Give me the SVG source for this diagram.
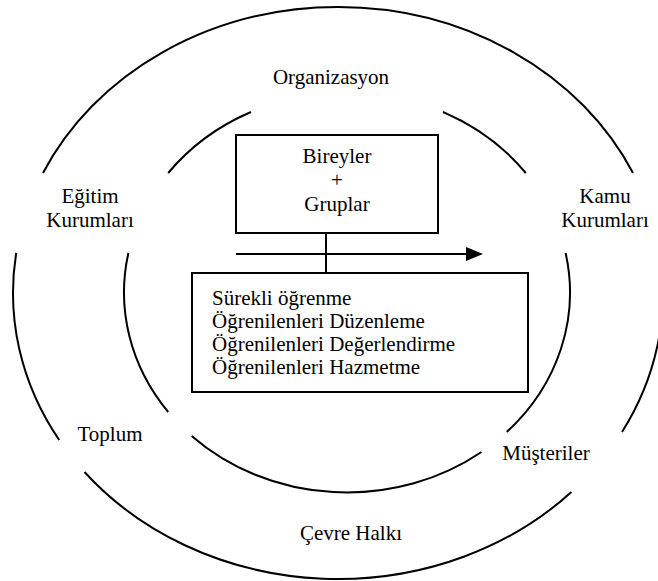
<svg xmlns="http://www.w3.org/2000/svg" width="658" height="581" viewBox="0 0 658 581">
  <defs>
    <style>
      .ring { fill: none; stroke: #000; stroke-width: 2; }
      .box { fill: #fff; stroke: #000; stroke-width: 2; }
      .conn { fill: none; stroke: #000; stroke-width: 2; }
      .t { font-family: "Liberation Serif", "Times New Roman", serif; font-size: 21px; fill: #000; }
      .c { text-anchor: middle; }
    </style>
  </defs>
  <rect x="0" y="0" width="658" height="581" fill="#fff"/>

  <g id="outer-ring">
    <path class="ring" d="M 633 173 A 325 286 0 0 0 43 173"/>
    <path class="ring" d="M 16.2 253 A 325 286 0 0 0 59.2 440"/>
    <path class="ring" d="M 84.5 472 A 325 286 0 0 0 571.4 492"/>
    <path class="ring" d="M 622 432 A 325 286 0 0 0 659.8 253"/>
  </g>

  <g id="inner-ring">
    <path class="ring" d="M 251 112 A 223 200 0 0 0 168.2 173"/>
    <path class="ring" d="M 128.4 253 A 223 200 0 0 0 168.2 412"/>
    <path class="ring" d="M 191.7 436 A 223 200 0 0 0 481.5 452"/>
    <path class="ring" d="M 506.8 432 A 223 200 0 0 0 565.6 253"/>
    <path class="ring" d="M 525.8 173 A 223 200 0 0 0 443 112"/>
  </g>

  <g id="label-organizasyon"><text class="t c" x="331" y="84">Organizasyon</text></g>
  <g id="label-egitim">
    <text class="t c" x="90" y="203">Eğitim</text>
    <text class="t c" x="90" y="227">Kurumları</text>
  </g>
  <g id="label-kamu">
    <text class="t c" x="605" y="203">Kamu</text>
    <text class="t c" x="605" y="227">Kurumları</text>
  </g>
  <g id="label-toplum"><text class="t c" x="110" y="441">Toplum</text></g>
  <g id="label-musteriler"><text class="t c" x="546" y="460">Müşteriler</text></g>
  <g id="label-cevre"><text class="t c" x="351" y="540">Çevre Halkı</text></g>

  <g id="connectors">
    <line class="conn" x1="326" y1="233" x2="326" y2="273"/>
    <line class="conn" x1="236" y1="254" x2="470" y2="254" stroke-width="2.5"/>
    <polygon points="483,254 466,247 466,261" fill="#000"/>
  </g>

  <g id="node-bireyler">
    <rect class="box" x="236" y="135" width="202" height="98"/>
    <text class="t c" x="337" y="163">Bireyler</text>
    <text class="t c" x="337" y="187">+</text>
    <text class="t c" x="337" y="211">Gruplar</text>
  </g>

  <g id="node-ogrenme">
    <rect class="box" x="192" y="273" width="336" height="119"/>
    <text class="t" x="212" y="305">Sürekli öğrenme</text>
    <text class="t" x="212" y="328">Öğrenilenleri Düzenleme</text>
    <text class="t" x="212" y="351">Öğrenilenleri Değerlendirme</text>
    <text class="t" x="212" y="374">Öğrenilenleri Hazmetme</text>
  </g>
</svg>
